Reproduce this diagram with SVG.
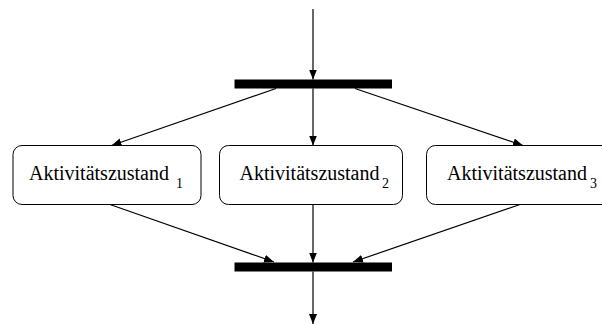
<svg xmlns="http://www.w3.org/2000/svg" width="602" height="325" viewBox="0 0 602 325">
  <style>
    .state { fill: #ffffff; stroke: #000000; stroke-width: 1; }
    .bar { fill: #000000; }
    .label { font-family: "Liberation Serif", "Times New Roman", serif; font-size: 20px; fill: #000000; }
    .sub { font-family: "Liberation Serif", "Times New Roman", serif; font-size: 14px; fill: #000000; }
    .edge { stroke: #000000; stroke-width: 1.2; fill: none; marker-end: url(#arrow); }
  </style>
  <defs>
    <marker id="arrow" viewBox="0 0 10 8" refX="10" refY="4" markerWidth="10" markerHeight="8" markerUnits="userSpaceOnUse" orient="auto">
      <path d="M0,0 L10,4 L0,8 z" fill="#000000"/>
    </marker>
  </defs>

  <!-- fork and join bars -->
  <g id="fork">
    <rect class="bar" x="234.5" y="79.5" width="157.5" height="9"/>
  </g>
  <g id="join">
    <rect class="bar" x="234.5" y="262.5" width="157.5" height="9"/>
  </g>

  <!-- activity states -->
  <g id="state1">
    <rect class="state" x="13" y="145.5" width="188" height="59" rx="9" ry="9"/>
    <text class="label" x="29" y="180">Aktivitätszustand</text>
    <text class="sub" x="176" y="187.5">1</text>
  </g>
  <g id="state2">
    <rect class="state" x="219.5" y="145.5" width="183" height="59" rx="9" ry="9"/>
    <text class="label" x="239.5" y="180">Aktivitätszustand</text>
    <text class="sub" x="382" y="187.5">2</text>
  </g>
  <g id="state3">
    <rect class="state" x="426.5" y="145.5" width="190" height="59" rx="9" ry="9"/>
    <text class="label" x="447" y="180">Aktivitätszustand</text>
    <text class="sub" x="590" y="187.5">3</text>
  </g>

  <!-- connectors -->
  <g id="connectors">
    <line class="edge" x1="313" y1="9" x2="313" y2="79.5"/>
    <line class="edge" x1="276" y1="88.5" x2="111.5" y2="145.5"/>
    <line class="edge" x1="313" y1="88.5" x2="313" y2="145.5"/>
    <line class="edge" x1="355" y1="88.5" x2="523" y2="145.5"/>
    <line class="edge" x1="110" y1="204.5" x2="274" y2="262"/>
    <line class="edge" x1="313" y1="204.5" x2="313" y2="262.5"/>
    <line class="edge" x1="520" y1="204.5" x2="353" y2="262"/>
    <line class="edge" x1="313" y1="271.5" x2="313" y2="324"/>
  </g>
</svg>
